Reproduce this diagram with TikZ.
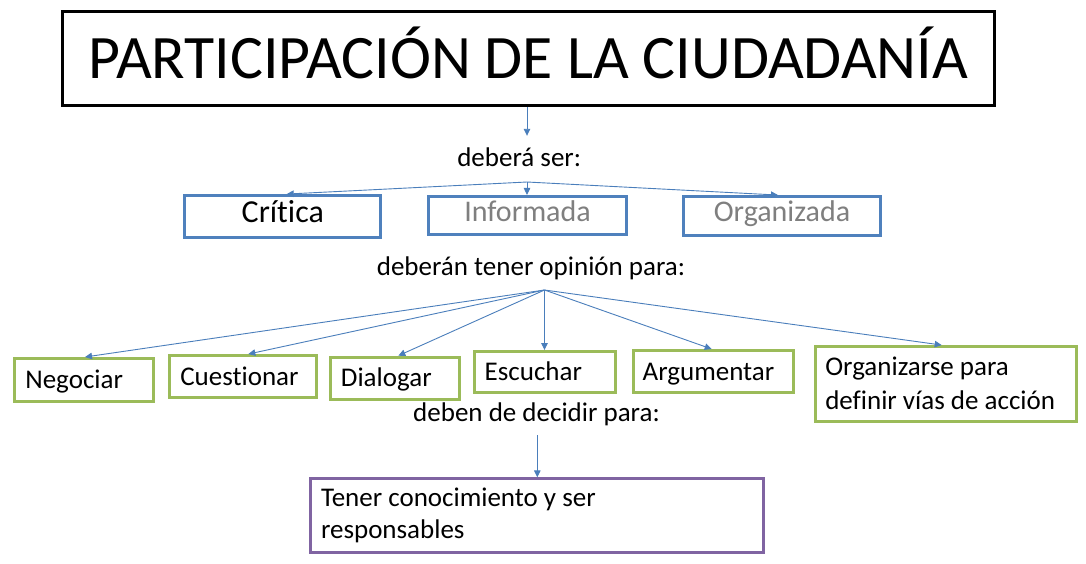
\documentclass[tikz,border=0pt]{standalone}
\usepackage{fontspec}
\setmainfont{Carlito}[Ligatures=NoCommon]
\usetikzlibrary{arrows.meta}
\definecolor{lineblue}{HTML}{4A7EBB}
\definecolor{boxblue}{HTML}{4F81BD}
\definecolor{boxgreen}{HTML}{9BBB59}
\definecolor{boxpurple}{HTML}{8064A2}
\definecolor{txtgray}{HTML}{7F7F7F}
\begin{document}
\begin{tikzpicture}[x=1pt,y=-1pt,
  arr/.style={draw=lineblue, line width=0.9pt, -{Triangle[length=7pt,width=6.5pt]}},
  box/.style={draw, line width=3pt, inner sep=0pt, fill=white},
  bluebox/.style={box, draw=boxblue, align=center, font=\fontsize{30}{36}\selectfont},
  greenbox/.style={box, draw=boxgreen, inner xsep=10.5pt, align=flush left, font=\fontsize{27}{34}\selectfont},
  lab/.style={anchor=base, inner xsep=0pt, inner ysep=10pt, text height=20pt, text depth=6pt, font=\fontsize{27}{33}\selectfont}
]
\useasboundingbox (0,0) rectangle (1086,563);

% title
\node[box, draw=black, minimum width=932.3pt, minimum height=94pt,
      text height=39pt, text depth=0pt, font=\fontsize{61.8}{72}\selectfont]
  (title) at (528.3,58.5) {PARTICIPACIÓN DE LA CIUDADANÍA};

% labels
\node[lab] (lab1) at (519.2,166) {deberá ser:};
\node[lab] (lab2) at (531,275.7) {deberán tener opinión para:};
\node[lab] (lab3) at (536.5,421.5) {deben de decidir para:};

% row 1
\node[bluebox, minimum width=196pt, minimum height=42.3pt, text height=11.2pt, text depth=0pt,
      font=\fontsize{32}{38}\selectfont] (crit) at (282.8,216.7) {Crítica};
\node[bluebox, minimum width=198.6pt, minimum height=37.7pt, text height=12.8pt, text depth=0pt,
      text=txtgray] (inf) at (527.5,215.3) {Informada};
\node[bluebox, minimum width=196.4pt, minimum height=39.3pt, text height=9.6pt, text depth=0pt,
      text=txtgray] (org) at (782,216.2) {Organizada};

% row 2
\node[greenbox, minimum width=138.7pt, minimum height=43pt, text width=117.7pt,
      text height=16.6pt, text depth=0pt] (neg) at (84.2,380) {Negociar};
\node[greenbox, minimum width=146.4pt, minimum height=42.3pt, text width=125.4pt,
      text height=16.6pt, text depth=0pt] (cue) at (243,376.7) {Cuestionar};
\node[greenbox, minimum width=128.7pt, minimum height=42pt, text width=107.7pt,
      text height=17pt, text depth=0pt] (dia) at (394.8,378.2) {Dialogar};
\node[greenbox, minimum width=141pt, minimum height=41.3pt, text width=120pt,
      text height=15.6pt, text depth=0pt] (esc) at (544.7,372.2) {Escuchar};
\node[greenbox, minimum width=160.3pt, minimum height=42pt, text width=141.3pt, inner xsep=9.5pt,
      text height=17pt, text depth=0pt] (arg) at (713.3,371.5) {Argumentar};
\node[greenbox, minimum width=261pt, minimum height=75.3pt, text width=242pt, inner xsep=9.5pt,
      text height=0pt, text depth=18.4pt] (orgz) at (946.3,384.2) {Organizarse para\\definir vías de acción};

% bottom
\node[box, draw=boxpurple, inner xsep=10.5pt, align=flush left, font=\fontsize{27}{32}\selectfont,
      minimum width=453pt, minimum height=73.7pt, text width=432pt,
      text height=0pt, text depth=18pt] (resp) at (537,515.7) {Tener conocimiento y ser\\responsables};

% fan points
\coordinate (fan1) at (527,182);
\coordinate (fan2) at (544.5,290);
\coordinate (fan3) at (537.3,435);

% connectors
\draw[arr] (title.south -| fan1) -- (lab1.north -| fan1);
\draw[arr] (fan1) -- ([xshift=3.9pt]crit.north);
\draw[arr] (fan1) -- (inf.north -| fan1);
\draw[arr] (fan1) -- ([xshift=-4pt]org.north);

\draw[arr] (fan2) -- ([xshift=0.8pt]neg.north);
\draw[arr] (fan2) -- ([xshift=5.3pt]cue.north);
\draw[arr] (fan2) -- ([xshift=3.5pt]dia.north);
\draw[arr] (fan2) -- (esc.north -| fan2);
\draw[arr] (fan2) -- ([xshift=-1.6pt]arg.north);
\draw[arr] (fan2) -- ([xshift=-4.6pt]orgz.north);

\draw[arr] (fan3) -- (resp.north -| fan3);
\end{tikzpicture}
\end{document}
